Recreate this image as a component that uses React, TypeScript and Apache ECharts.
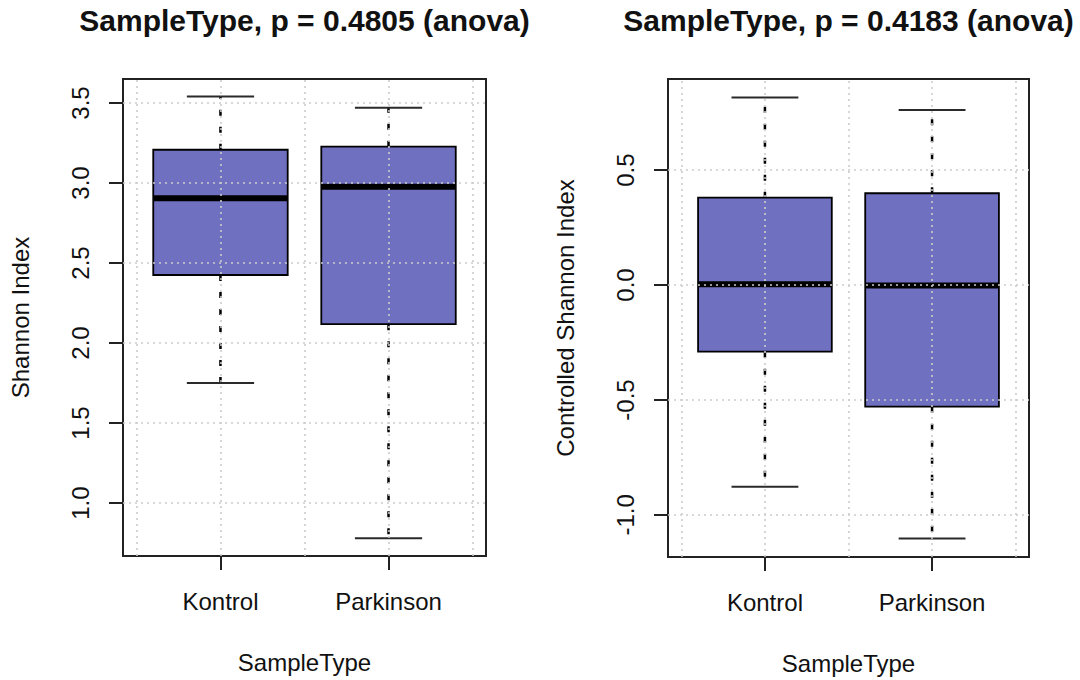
import React, { useEffect, useRef } from 'react';
import * as echarts from 'echarts';

// ---- data ----
const categories = ['Kontrol', 'Parkinson'];
const categoryPositions = [1, 2];
// [lower whisker, Q1, median, Q3, upper whisker]
const shannonKontrol = [1.75, 2.425, 2.905, 3.208, 3.54];
const shannonParkinson = [0.78, 2.118, 2.977, 3.227, 3.471];
const controlledKontrol = [-0.877, -0.29, 0.003, 0.38, 0.816];
const controlledParkinson = [-1.103, -0.529, -0.002, 0.399, 0.761];
const shannonTicks = [1.0, 1.5, 2.0, 2.5, 3.0, 3.5];
const controlledTicks = [-1.0, -0.5, 0.0, 0.5];
const shannonRange = [0.669, 3.65];
const controlledRange = [-1.183, 0.896];
const xRange = [0.42, 2.58];
const xGridValues = [0.5, 1, 1.5, 2, 2.5];
const titles = ['SampleType, p = 0.4805 (anova)', 'SampleType, p = 0.4183 (anova)'];
const yNames = ['Shannon Index', 'Controlled Shannon Index'];
const xName = 'SampleType';

const FONT = 'Liberation Sans';
const TEXT = '#111';
const AXIS = '#222';

const renderBox = (params: any, api: any) => {
  const x = api.value(0);
  const lo = api.value(1);
  const q1 = api.value(2);
  const med = api.value(3);
  const q3 = api.value(4);
  const hi = api.value(5);
  const half = api.size([0.4, 0])[0];
  const capHalf = half / 2;
  const pLo = api.coord([x, lo]);
  const pQ1 = api.coord([x, q1]);
  const pMed = api.coord([x, med]);
  const pQ3 = api.coord([x, q3]);
  const pHi = api.coord([x, hi]);
  const cx = pLo[0];
  const whisker = { stroke: '#000', lineWidth: 2.5, lineDash: [6, 11] };
  const cap = { stroke: '#2a2a2a', lineWidth: 2 };
  return {
    type: 'group',
    children: [
      { type: 'line', shape: { x1: cx, y1: pQ3[1], x2: cx, y2: pHi[1] }, style: whisker },
      { type: 'line', shape: { x1: cx, y1: pQ1[1], x2: cx, y2: pLo[1] }, style: whisker },
      { type: 'line', shape: { x1: cx - capHalf, y1: pHi[1], x2: cx + capHalf, y2: pHi[1] }, style: cap },
      { type: 'line', shape: { x1: cx - capHalf, y1: pLo[1], x2: cx + capHalf, y2: pLo[1] }, style: cap },
      {
        type: 'rect',
        shape: { x: cx - half, y: pQ3[1], width: 2 * half, height: pQ1[1] - pQ3[1] },
        style: { fill: '#7070c0', stroke: '#000', lineWidth: 1.8 },
      },
      { type: 'line', shape: { x1: cx - half, y1: pMed[1], x2: cx + half, y2: pMed[1] }, style: { stroke: '#000', lineWidth: 6 } },
    ],
  };
};

const gridLines = (ticks: number[]) => ({
  silent: true,
  symbol: ['none', 'none'],
  label: { show: false },
  lineStyle: { color: '#cccccc', type: [2, 4], width: 1.6 },
  data: [
    ...xGridValues.map((v) => ({ xAxis: v })),
    ...ticks.map((v) => ({ yAxis: v })),
  ],
});

const makeXAxis = (gridIndex: number) => ({
  type: 'value',
  gridIndex,
  min: xRange[0],
  max: xRange[1],
  splitLine: { show: false },
  axisLine: { show: true, onZero: false, lineStyle: { color: AXIS, width: 2 } },
  axisTick: { show: true, customValues: categoryPositions, length: 14, lineStyle: { color: AXIS, width: 2 } },
  axisLabel: {
    customValues: categoryPositions,
    formatter: (v: number) => categories[categoryPositions.indexOf(v)] ?? '',
    margin: 33,
    fontSize: 24,
    color: TEXT,
    fontFamily: FONT,
  },
  name: xName,
  nameLocation: 'middle',
  nameGap: 94,
  nameTextStyle: { fontSize: 24, color: TEXT, fontFamily: FONT },
});

const makeYAxis = (gridIndex: number, range: number[], ticks: number[], name: string) => ({
  type: 'value',
  gridIndex,
  min: range[0],
  max: range[1],
  splitLine: { show: false },
  axisLine: { show: true, onZero: false, lineStyle: { color: AXIS, width: 2 } },
  axisTick: { show: true, customValues: ticks, length: 14, lineStyle: { color: AXIS, width: 2 } },
  axisLabel: {
    customValues: ticks,
    formatter: (v: number) => v.toFixed(1),
    rotate: 90,
    margin: 31,
    fontSize: 24,
    color: TEXT,
    fontFamily: FONT,
  },
  name,
  nameLocation: 'middle',
  nameGap: 91,
  nameTextStyle: { fontSize: 24, color: TEXT, fontFamily: FONT },
});

export default function App() {
  const ref = useRef<HTMLDivElement>(null);
  useEffect(() => {
    if (!ref.current) return;
    const chart = echarts.init(ref.current, undefined, { renderer: 'svg' });
    const grids = [
      { left: 123, top: 79, width: 363, height: 477 },
      { left: 668, top: 79, width: 361, height: 478 },
    ];
    const option: any = {
      animation: false,
      backgroundColor: '#fff',
      grid: grids.map((g) => ({ ...g, show: true, borderColor: AXIS, borderWidth: 2, backgroundColor: 'transparent' })),
      xAxis: [makeXAxis(0), makeXAxis(1)],
      yAxis: [
        makeYAxis(0, shannonRange, shannonTicks, yNames[0]),
        makeYAxis(1, controlledRange, controlledTicks, yNames[1]),
      ],
      graphic: titles.map((t, i) => ({
        type: 'text',
        x: grids[i].left + grids[i].width / 2,
        y: 20,
        style: {
          text: t,
          textAlign: 'center',
          textVerticalAlign: 'middle',
          font: `bold 30px "${FONT}"`,
          fill: TEXT,
        },
      })),
      series: [
        {
          type: 'custom',
          xAxisIndex: 0,
          yAxisIndex: 0,
          renderItem: renderBox,
          encode: { x: 0, y: [1, 2, 3, 4, 5] },
          data: [
            [categoryPositions[0], ...shannonKontrol],
            [categoryPositions[1], ...shannonParkinson],
          ],
          markLine: gridLines(shannonTicks),
          silent: true,
        },
        {
          type: 'custom',
          xAxisIndex: 1,
          yAxisIndex: 1,
          renderItem: renderBox,
          encode: { x: 0, y: [1, 2, 3, 4, 5] },
          data: [
            [categoryPositions[0], ...controlledKontrol],
            [categoryPositions[1], ...controlledParkinson],
          ],
          markLine: gridLines(controlledTicks),
          silent: true,
        },
      ],
    };
    chart.setOption(option);
    return () => chart.dispose();
  }, []);
  return (
    <div
      ref={ref}
      style={{ position: 'absolute', left: 0, top: 0, width: 1080, height: 680, background: '#fff' }}
    />
  );
}
